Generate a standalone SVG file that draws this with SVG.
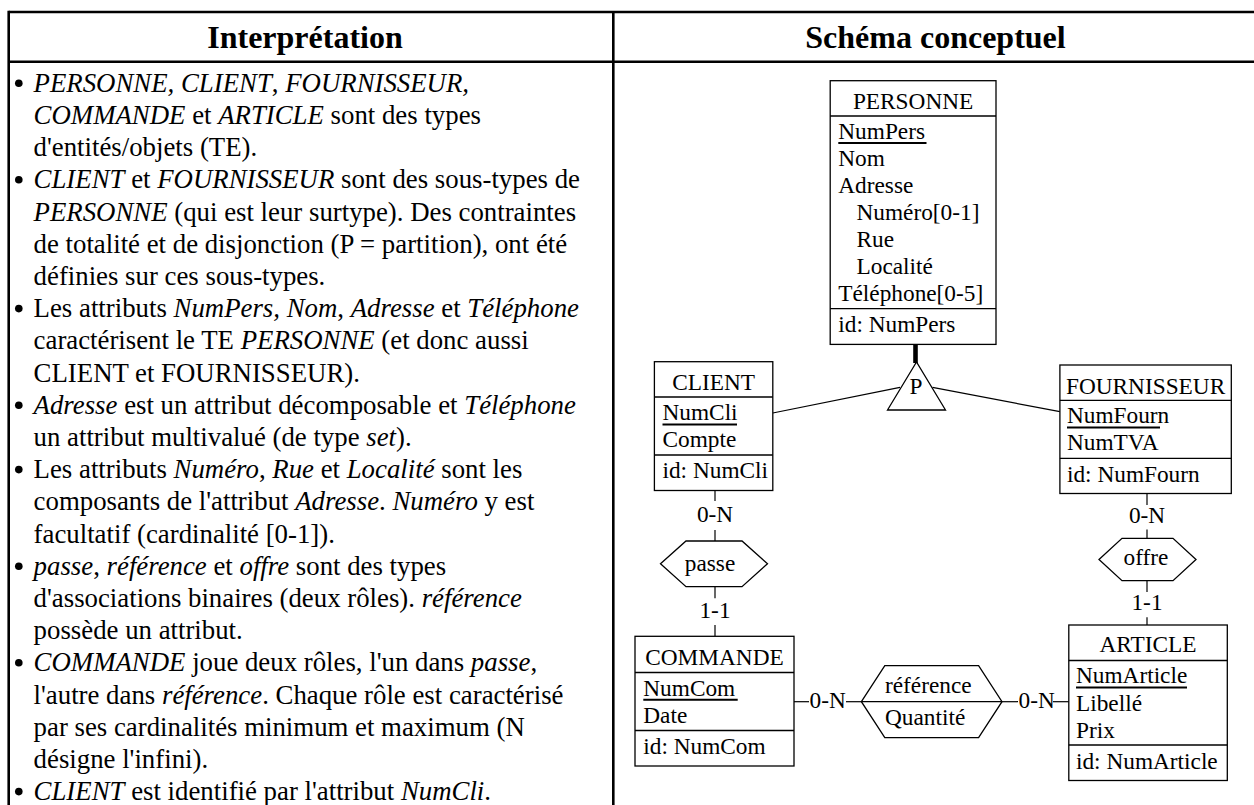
<svg xmlns="http://www.w3.org/2000/svg" width="1254" height="805" viewBox="0 0 1254 805">
<style>
.frame{stroke:#000;stroke-width:2.6;fill:none}
.box{fill:#fff;stroke:#000;stroke-width:1.3}
.sep{stroke:#000;stroke-width:1.3}
.ul{stroke:#000;stroke-width:2}
.ln{stroke:#000;stroke-width:1.2;fill:none}
.dot{fill:#000}
.hd{font-family:"Liberation Serif","Times New Roman",serif;font-size:32px;font-weight:bold;text-anchor:middle}
.tx{font-family:"Liberation Serif","Times New Roman",serif;font-size:26.8px}
.d{font-family:"Liberation Serif","Times New Roman",serif;font-size:23.3px}
.m{text-anchor:middle}
.i{font-style:italic}
</style>
<rect width="1254" height="805" fill="#fff"/>
<g id="table">
<line class="frame" x1="8.7" y1="12" x2="1256" y2="12"/>
<line class="frame" x1="8.7" y1="61.7" x2="1256" y2="61.7"/>
<line class="frame" x1="8.7" y1="10.7" x2="8.7" y2="806"/>
<line class="frame" x1="613.3" y1="12" x2="613.3" y2="806"/>
<text class="hd" x="305" y="48.3">Interprétation</text>
<text class="hd" x="935.5" y="48.3">Schéma conceptuel</text>
</g>
<g id="bullets" class="dot">
<circle cx="18.8" cy="83.2" r="3.8"/>
<circle cx="18.8" cy="179.8" r="3.8"/>
<circle cx="18.8" cy="308.6" r="3.8"/>
<circle cx="18.8" cy="405.2" r="3.8"/>
<circle cx="18.8" cy="469.6" r="3.8"/>
<circle cx="18.8" cy="566.2" r="3.8"/>
<circle cx="18.8" cy="662.8" r="3.8"/>
<circle cx="18.8" cy="791.6" r="3.8"/>
</g>
<g id="interpretation" class="tx">
<text x="33.6" y="91.7"><tspan class="i">PERSONNE, CLIENT</tspan>, <tspan class="i">FOURNISSEUR,</tspan></text>
<text x="33.6" y="123.9"><tspan class="i">COMMANDE</tspan> et <tspan class="i">ARTICLE</tspan> sont des types</text>
<text x="33.6" y="156.1">d'entités/objets (TE).</text>
<text x="33.6" y="188.3"><tspan class="i">CLIENT</tspan> et <tspan class="i">FOURNISSEUR</tspan> sont des sous-types de</text>
<text x="33.6" y="220.5"><tspan class="i">PERSONNE</tspan> (qui est leur surtype). Des contraintes</text>
<text x="33.6" y="252.7">de totalité et de disjonction (P = partition), ont été</text>
<text x="33.6" y="284.9">définies sur ces sous-types.</text>
<text x="33.6" y="317.1">Les attributs <tspan class="i">NumPers, Nom</tspan>, <tspan class="i">Adresse</tspan> et <tspan class="i">Téléphone</tspan></text>
<text x="33.6" y="349.3">caractérisent le TE <tspan class="i">PERSONNE</tspan> (et donc aussi</text>
<text x="33.6" y="381.5">CLIENT et FOURNISSEUR).</text>
<text x="33.6" y="413.7"><tspan class="i">Adresse</tspan> est un attribut décomposable et <tspan class="i">Téléphone</tspan></text>
<text x="33.6" y="445.9">un attribut multivalué (de type <tspan class="i">set</tspan>).</text>
<text x="33.6" y="478.1">Les attributs <tspan class="i">Numéro</tspan>, <tspan class="i">Rue</tspan> et <tspan class="i">Localité</tspan> sont les</text>
<text x="33.6" y="510.3">composants de l'attribut <tspan class="i">Adresse</tspan>. <tspan class="i">Numéro</tspan> y est</text>
<text x="33.6" y="542.5">facultatif (cardinalité [0-1]).</text>
<text x="33.6" y="574.7"><tspan class="i">passe</tspan>, <tspan class="i">référence</tspan> et <tspan class="i">offre</tspan> sont des types</text>
<text x="33.6" y="606.9">d'associations binaires (deux rôles). <tspan class="i">référence</tspan></text>
<text x="33.6" y="639.1">possède un attribut.</text>
<text x="33.6" y="671.3"><tspan class="i">COMMANDE</tspan> joue deux rôles, l'un dans <tspan class="i">passe</tspan>,</text>
<text x="33.6" y="703.5">l'autre dans <tspan class="i">référence</tspan>. Chaque rôle est caractérisé</text>
<text x="33.6" y="735.7">par ses cardinalités minimum et maximum (N</text>
<text x="33.6" y="767.9">désigne l'infini).</text>
<text x="33.6" y="799.6"><tspan class="i">CLIENT</tspan> est identifié par l'attribut <tspan class="i">NumCli</tspan>.</text>
</g>
<g id="connectors">
<line x1="915.5" y1="344" x2="915.5" y2="363" stroke="#000" stroke-width="4.6"/>
<line class="ln" x1="772.8" y1="413" x2="900" y2="387.4"/>
<line class="ln" x1="932.5" y1="387.4" x2="1059.9" y2="411.7"/>
<line class="ln" x1="715" y1="490.5" x2="715" y2="501"/>
<line class="ln" x1="715" y1="530" x2="715" y2="541"/>
<line class="ln" x1="715" y1="586.7" x2="715" y2="598.3"/>
<line class="ln" x1="715" y1="625" x2="715" y2="636.3"/>
<line class="ln" x1="1147" y1="493.5" x2="1147" y2="505"/>
<line class="ln" x1="1147" y1="529.5" x2="1147" y2="538.3"/>
<line class="ln" x1="1147" y1="580.7" x2="1147" y2="592"/>
<line class="ln" x1="1147" y1="617.3" x2="1147" y2="625"/>
<line class="ln" x1="794" y1="701.7" x2="809" y2="701.7"/>
<line class="ln" x1="846" y1="701.7" x2="861.4" y2="701.7"/>
<line class="ln" x1="1002" y1="701.7" x2="1018" y2="701.7"/>
<line class="ln" x1="1053" y1="701.7" x2="1068.8" y2="701.7"/>
<text class="d m" x="715" y="522.3">0-N</text>
<text class="d m" x="715" y="618.3">1-1</text>
<text class="d m" x="1147" y="522.7">0-N</text>
<text class="d m" x="1147" y="610">1-1</text>
<text class="d" x="809.5" y="707.7">0-N</text>
<text class="d" x="1018.5" y="707.7">0-N</text>
</g>
<g id="PERSONNE">
<rect class="box" x="830.2" y="80.7" width="165.8" height="263.7"/>
<line class="sep" x1="830.2" y1="116" x2="996" y2="116"/>
<line class="sep" x1="830.2" y1="308.7" x2="996" y2="308.7"/>
<text class="d m" x="913.1" y="109.3">PERSONNE</text>
<text class="d" x="838.3" y="139">NumPers</text>
<line class="ul" x1="838.3" y1="143" x2="926.5" y2="143"/>
<text class="d" x="838.3" y="166">Nom</text>
<text class="d" x="838.3" y="193">Adresse</text>
<text class="d" x="856.5" y="220">Numéro[0-1]</text>
<text class="d" x="856.5" y="247">Rue</text>
<text class="d" x="856.5" y="274">Localité</text>
<text class="d" x="838.3" y="301">Téléphone[0-5]</text>
<text class="d" x="838.3" y="332">id: NumPers</text>
</g>
<g id="ISA">
<polygon class="box" points="916.5,362 887.5,410 945.5,410"/>
<text class="d m" x="916" y="393.5">P</text>
</g>
<g id="CLIENT">
<rect class="box" x="654.4" y="361.7" width="118.4" height="128.8"/>
<line class="sep" x1="654.4" y1="397" x2="772.8" y2="397"/>
<line class="sep" x1="654.4" y1="455" x2="772.8" y2="455"/>
<text class="d m" x="713.6" y="390.2">CLIENT</text>
<text class="d" x="662.5" y="420.3">NumCli</text>
<line class="ul" x1="662.5" y1="424.5" x2="737" y2="424.5"/>
<text class="d" x="662.5" y="447.3">Compte</text>
<text class="d" x="662.5" y="478.4">id: NumCli</text>
</g>
<g id="FOURNISSEUR">
<rect class="box" x="1059.9" y="365" width="171.4" height="128.5"/>
<line class="sep" x1="1059.9" y1="400.3" x2="1231.3" y2="400.3"/>
<line class="sep" x1="1059.9" y1="458.3" x2="1231.3" y2="458.3"/>
<text class="d m" x="1145.6" y="393.6">FOURNISSEUR</text>
<text class="d" x="1067" y="423.3">NumFourn</text>
<line class="ul" x1="1067" y1="427.5" x2="1160" y2="427.5"/>
<text class="d" x="1067" y="450.3">NumTVA</text>
<text class="d" x="1067" y="481.7">id: NumFourn</text>
</g>
<g id="passe">
<polygon class="box" points="660.5,563.8 686,541 742,541 767.5,563.8 742,586.7 686,586.7"/>
<text class="d m" x="710" y="570.7">passe</text>
</g>
<g id="offre">
<polygon class="box" points="1099,559.5 1122,538.3 1173,538.3 1196,559.5 1173,580.7 1122,580.7"/>
<text class="d m" x="1146" y="565">offre</text>
</g>
<g id="COMMANDE">
<rect class="box" x="635" y="636.3" width="159" height="129.7"/>
<line class="sep" x1="635" y1="672.5" x2="794" y2="672.5"/>
<line class="sep" x1="635" y1="730.5" x2="794" y2="730.5"/>
<text class="d m" x="714.5" y="665.3">COMMANDE</text>
<text class="d" x="643.3" y="695.7">NumCom</text>
<line class="ul" x1="643.3" y1="699.7" x2="737.7" y2="699.7"/>
<text class="d" x="643.3" y="722.7">Date</text>
<text class="d" x="643.3" y="753.5">id: NumCom</text>
</g>
<g id="reference">
<polygon class="box" points="861.4,701.7 884.8,665.7 978.6,665.7 1002,701.7 978.6,737.7 884.8,737.7"/>
<line class="sep" x1="861.4" y1="701.7" x2="1002" y2="701.7"/>
<text class="d" x="885" y="692.7">référence</text>
<text class="d" x="885" y="725">Quantité</text>
</g>
<g id="ARTICLE">
<rect class="box" x="1068.8" y="625" width="158.5" height="155.5"/>
<line class="sep" x1="1068.8" y1="660.5" x2="1227.3" y2="660.5"/>
<line class="sep" x1="1068.8" y1="745" x2="1227.3" y2="745"/>
<text class="d m" x="1148" y="651.7">ARTICLE</text>
<text class="d" x="1076" y="683.3">NumArticle</text>
<line class="ul" x1="1076" y1="687.5" x2="1187" y2="687.5"/>
<text class="d" x="1076" y="710.5">Libellé</text>
<text class="d" x="1076" y="737.5">Prix</text>
<text class="d" x="1076" y="768.5">id: NumArticle</text>
</g>
</svg>
